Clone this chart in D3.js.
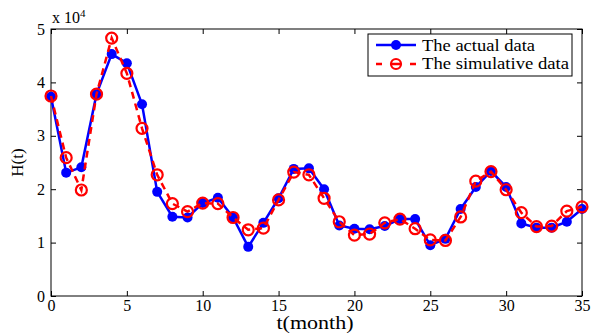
<!DOCTYPE html>
<html><head><meta charset="utf-8">
<script src="https://cdn.jsdelivr.net/npm/d3@7"></script>
<style>body{margin:0;background:#fff}svg{display:block}</style>
</head><body>
<svg id="c" width="592" height="336" font-family="'Liberation Serif', 'Times New Roman', Times, 'DejaVu Serif', serif"></svg>
<script>
const months = d3.range(0, 36);
const actual = [37300,23100,24100,37800,45300,43600,35900,19500,14850,14700,17400,18400,14700,9200,13700,18300,23800,23900,20000,13200,12600,12500,13100,14400,14400,9500,10700,16300,20400,23400,20400,13600,12800,12800,13900,16300];
const simulative = [37450,25900,19850,37800,48300,41700,31400,22700,17300,15800,17400,17300,14700,12400,12700,18000,23200,22700,18300,13900,11400,11600,13700,14400,12600,10500,10400,14800,21500,23300,19900,15600,13000,13100,15900,16700];
const xTicks = [0,5,10,15,20,25,30,35];
const yTicks = [0,10000,20000,30000,40000,50000];
const seriesNames = ["The actual data","The simulative data"];

const FF = "'Liberation Serif', 'Times New Roman', Times, 'DejaVu Serif', serif";
const svg = d3.select("#c");
const L=51, R=582, T=29, B=296;
const x = d3.scaleLinear().domain([0,35]).range([L,R]);
const y = d3.scaleLinear().domain([0,50000]).range([B,T]);

svg.append("rect").attr("x",L).attr("y",T).attr("width",R-L).attr("height",B-T)
  .attr("fill","none").attr("stroke","#000").attr("stroke-width",1);

const fs = 16;
const gx = svg.append("g").attr("transform",`translate(0,${B})`)
  .call(d3.axisBottom(x).tickValues(xTicks).tickSizeInner(-5).tickSizeOuter(0).tickPadding(4));
gx.attr("font-family",FF).attr("font-size",fs);
gx.selectAll("text").attr("font-family",FF);
gx.select(".domain").remove();
const gxt = svg.append("g").attr("transform",`translate(0,${T})`)
  .call(d3.axisTop(x).tickValues(xTicks).tickSizeInner(-5).tickSizeOuter(0).tickFormat(""));
gxt.select(".domain").remove();
const gy = svg.append("g").attr("transform",`translate(${L},0)`)
  .call(d3.axisLeft(y).tickValues(yTicks).tickSizeInner(-5).tickSizeOuter(0).tickPadding(6).tickFormat(d=>d/10000));
gy.attr("font-family",FF).attr("font-size",fs);
gy.selectAll("text").attr("font-family",FF);
gy.select(".domain").remove();
const gyr = svg.append("g").attr("transform",`translate(${R},0)`)
  .call(d3.axisRight(y).tickValues(yTicks).tickSizeInner(-5).tickSizeOuter(0).tickFormat(""));
gyr.select(".domain").remove();
svg.selectAll(".tick line").attr("stroke","#000");
svg.selectAll(".tick text").attr("fill","#000");

const ex = svg.append("text").attr("x",L+1).attr("y",23).attr("font-size",16).attr("font-family",FF);
ex.append("tspan").text("x 10");
ex.append("tspan").attr("dy",-6).attr("font-size",11).text("4");

svg.append("text").attr("x",315).attr("y",329).attr("text-anchor","middle").attr("font-size",18).attr("font-family",FF)
  .attr("textLength",77).attr("lengthAdjust","spacingAndGlyphs").text("t(month)");
svg.append("text").attr("transform",`translate(23,${(T+B)/2}) rotate(-90)`).attr("text-anchor","middle").attr("font-size",17).attr("font-family",FF).text("H(t)");

const line = d3.line().x((d,i)=>x(months[i])).y(d=>y(d));
svg.append("path").datum(actual).attr("d",line).attr("fill","none").attr("stroke","#0000ff").attr("stroke-width",2.5);
svg.selectAll(".pa").data(actual).enter().append("circle").attr("cx",(d,i)=>x(months[i])).attr("cy",d=>y(d)).attr("r",5).attr("fill","#0000ff");
svg.append("path").datum(simulative).attr("d",line).attr("fill","none").attr("stroke","#ff0000").attr("stroke-width",2.5).attr("stroke-dasharray","7,5");
svg.selectAll(".ps").data(simulative).enter().append("circle").attr("cx",(d,i)=>x(months[i])).attr("cy",d=>y(d)).attr("r",5.5).attr("fill","none").attr("stroke","#ff0000").attr("stroke-width",2.2);

const lg = svg.append("g").attr("font-family",FF);
lg.append("rect").attr("x",368).attr("y",34).attr("width",204).attr("height",42).attr("fill","#fff").attr("stroke","#000").attr("stroke-width",1);
lg.append("line").attr("x1",376).attr("x2",416).attr("y1",45).attr("y2",45).attr("stroke","#0000ff").attr("stroke-width",2.5);
lg.append("circle").attr("cx",396).attr("cy",45).attr("r",5).attr("fill","#0000ff");
lg.append("line").attr("x1",376).attr("x2",416).attr("y1",64).attr("y2",64).attr("stroke","#ff0000").attr("stroke-width",2.5).attr("stroke-dasharray","6,9.5,9,9.5,6");
lg.append("circle").attr("cx",396).attr("cy",64).attr("r",5).attr("fill","none").attr("stroke","#ff0000").attr("stroke-width",2.2);
lg.append("text").attr("x",422).attr("y",51).attr("font-size",17).attr("textLength",113).attr("lengthAdjust","spacingAndGlyphs").text(seriesNames[0]);
lg.append("text").attr("x",422).attr("y",69).attr("font-size",17).attr("textLength",147).attr("lengthAdjust","spacingAndGlyphs").text(seriesNames[1]);
</script>
</body></html>
